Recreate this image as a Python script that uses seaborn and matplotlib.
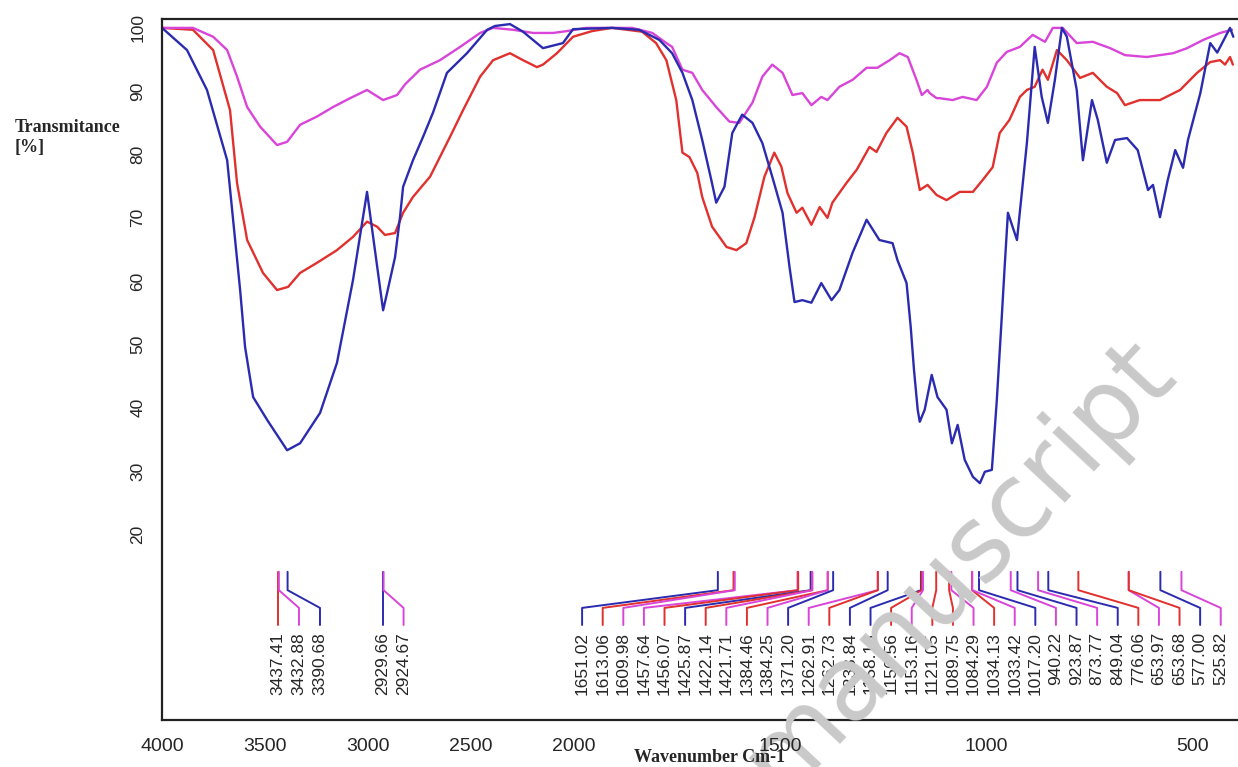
import numpy as np
import pandas as pd
import seaborn as sns
import matplotlib
matplotlib.use('Agg')
import matplotlib.pyplot as plt
from matplotlib import font_manager

# --- spectra (wavenumber cm-1, transmittance %) ---
blue_wn = [4000, 3879, 3782, 3684, 3621, 3597, 3558, 3490, 3393, 3330, 3233, 3151, 3073, 3005,
           2927, 2908, 2869, 2845, 2830, 2782, 2733, 2685, 2617, 2520, 2422, 2384, 2311, 2248,
           2151, 2054, 2005, 1908, 1842, 1793, 1762, 1737, 1713, 1689, 1667, 1655, 1635, 1616,
           1592, 1567, 1543, 1519, 1494, 1477, 1465, 1446, 1424, 1400, 1375, 1356, 1324, 1290,
           1259, 1227, 1215, 1193, 1183, 1175, 1166, 1161, 1149, 1132, 1118, 1096, 1083, 1069,
           1052, 1032, 1015, 1003, 986, 974, 962, 955, 947, 925, 901, 882, 865, 850, 833, 816,
           804, 780, 765, 743, 729, 707, 687, 658, 632, 607, 595, 578, 559, 541, 522, 510, 480,
           456, 439, 408, 400]
blue_t = [100, 96.5, 90.2, 79.1, 58.6, 49.6, 41.7, 38.1, 33.3, 34.4, 39.2, 47.1, 60.2, 74.1,
          55.4, 58.1, 63.8, 70.1, 74.9, 79.1, 82.8, 86.6, 92.9, 96.0, 99.7, 100.3, 100.6, 99.4,
          96.8, 97.6, 99.8, 100, 99.7, 98.1, 96.0, 92.9, 88.6, 82.3, 76.0, 72.4, 74.9, 83.4,
          86.3, 85.0, 81.8, 76.5, 70.8, 62.2, 56.7, 57.0, 56.6, 59.7, 57.0, 58.6, 64.5, 69.7,
          66.5, 66.0, 63.3, 59.7, 52.8, 46.0, 39.7, 37.8, 39.7, 45.2, 41.7, 39.7, 34.4, 37.3,
          31.8, 29.1, 28.1, 29.9, 30.2, 41.2, 54.3, 62.2, 70.8, 66.5, 81.8, 97.0, 89.1, 85.0,
          91.8, 100, 98.6, 90.2, 79.1, 88.6, 85.5, 78.7, 82.3, 82.6, 80.7, 74.4, 75.2, 70.1,
          76.0, 80.7, 77.9, 82.3, 89.7, 97.6, 96.1, 100, 98.6]

red_wn = [4000, 3850, 3752, 3670, 3636, 3587, 3510, 3442, 3388, 3330, 3248, 3151, 3073, 3005,
          2956, 2918, 2869, 2830, 2782, 2699, 2602, 2539, 2456, 2393, 2311, 2248, 2180, 2151,
          2083, 2005, 1956, 1908, 1835, 1801, 1776, 1752, 1737, 1720, 1701, 1689, 1665, 1630,
          1606, 1582, 1562, 1538, 1514, 1497, 1482, 1460, 1446, 1424, 1404, 1385, 1373, 1339,
          1314, 1283, 1266, 1242, 1215, 1193, 1178, 1161, 1142, 1120, 1096, 1064, 1032, 1008,
          984, 967, 943, 918, 901, 882, 863, 850, 828, 804, 772, 741, 707, 682, 663, 627, 578,
          529, 488, 456, 432, 420, 408, 401]
red_t = [100, 99.7, 96.5, 87.0, 75.5, 66.5, 61.3, 58.6, 59.1, 61.3, 62.9, 64.9, 67.0, 69.4,
         68.6, 67.3, 67.6, 70.8, 73.3, 76.5, 82.8, 87.0, 92.3, 94.9, 96.0, 94.9, 93.8, 94.2,
         96.0, 98.6, 99.5, 100, 99.4, 97.6, 94.9, 88.6, 80.3, 79.6, 77.1, 73.3, 68.6, 65.4,
         64.9, 66.0, 70.1, 76.5, 80.3, 78.1, 73.9, 70.8, 71.6, 68.9, 71.7, 70.0, 72.4, 75.5,
         77.6, 81.2, 80.4, 83.4, 85.8, 84.4, 80.3, 74.4, 75.2, 73.6, 72.8, 74.1, 74.1, 76.0,
         78.0, 83.4, 85.5, 89.1, 90.2, 90.7, 93.4, 91.8, 96.5, 94.9, 92.1, 92.9, 90.7, 89.7,
         87.8, 88.6, 88.6, 90.2, 92.9, 94.6, 94.9, 94.2, 95.4, 94.2]

mag_wn = [4000, 3850, 3752, 3684, 3636, 3587, 3524, 3442, 3393, 3330, 3248, 3170, 3087, 3005,
          2927, 2859, 2820, 2748, 2651, 2553, 2456, 2393, 2296, 2199, 2102, 2034, 1971, 1859,
          1810, 1776, 1762, 1737, 1713, 1689, 1655, 1623, 1599, 1567, 1543, 1519, 1494, 1470,
          1446, 1424, 1400, 1385, 1356, 1324, 1290, 1264, 1234, 1210, 1190, 1169, 1156, 1142,
          1137, 1120, 1113, 1081, 1057, 1023, 998, 974, 950, 918, 887, 857, 838, 814, 780, 741,
          699, 663, 610, 546, 512, 473, 432, 403]
mag_t = [100, 100, 98.6, 96.5, 92.3, 87.5, 84.4, 81.5, 82.0, 84.7, 86.0, 87.5, 88.9, 90.2,
         88.6, 89.4, 91.1, 93.4, 94.9, 97.0, 99.2, 100, 99.7, 99.2, 99.2, 99.5, 100, 100,
         99.2, 97.6, 97.0, 93.4, 92.9, 90.2, 87.5, 85.2, 85.0, 88.2, 92.3, 94.2, 92.9, 89.4,
         89.7, 87.8, 89.1, 88.6, 90.7, 91.8, 93.7, 93.7, 94.9, 96.0, 95.4, 91.8, 89.4, 90.2,
         89.7, 88.9, 88.9, 88.6, 89.1, 88.6, 90.7, 94.5, 96.2, 97.0, 98.9, 97.8, 100, 100,
         97.6, 97.8, 96.8, 95.7, 95.4, 96.0, 96.8, 98.1, 99.2, 99.7]

# peak labels (text, series)
peaks_a = [("3437.41", "red"), ("3432.88", "mag"), ("3390.68", "blue")]
peaks_b = [("2929.66", "blue"), ("2924.67", "mag")]
peaks_c = [("1651.02", "blue"), ("1613.06", "red"), ("1609.98", "mag"), ("1457.64", "mag"),
           ("1456.07", "red"), ("1425.87", "blue"), ("1422.14", "red"), ("1421.71", "mag"),
           ("1384.46", "red"), ("1384.25", "mag"), ("1371.20", "blue"), ("1262.91", "mag"),
           ("1262.73", "red"), ("1238.84", "blue"), ("1158.18", "blue"), ("1156.56", "red"),
           ("1153.16", "mag"), ("1121.05", "red"), ("1089.75", "red"), ("1084.29", "mag"),
           ("1034.13", "red"), ("1033.42", "mag"), ("1017.20", "blue"), ("940.22", "mag"),
           ("923.87", "blue"), ("873.77", "mag"), ("849.04", "blue"), ("776.06", "red"),
           ("653.97", "mag"), ("653.68", "red"), ("577.00", "blue"), ("525.82", "mag")]

x_ticks = [4000, 3500, 3000, 2500, 2000, 1500, 1000, 500]
y_ticks = [20, 30, 40, 50, 60, 70, 80, 90, 100]

colors = {"red": "#e0312e", "mag": "#d845d8", "blue": "#2b2bb0"}


def pick_font(names):
    for n in names:
        try:
            font_manager.findfont(n, fallback_to_default=False)
            return n
        except Exception:
            pass
    return "DejaVu Sans"


narrow = pick_font(["Liberation Sans Narrow", "Liberation Sans"])
serif = pick_font(["Liberation Serif", "DejaVu Serif"])

sns.set_style("white")
plt.rcParams['font.family'] = [narrow, 'DejaVu Sans']

df = pd.concat([
    pd.DataFrame({"wn": red_wn, "T": red_t, "s": "red"}),
    pd.DataFrame({"wn": mag_wn, "T": mag_t, "s": "mag"}),
    pd.DataFrame({"wn": blue_wn, "T": blue_t, "s": "blue"}),
])


# wavenumber axis is compressed by 2 above 2000
def fwd(w):
    w = np.asarray(w, dtype=float)
    return np.where(w > 2000, 2000 + (w - 2000) / 2, w)


def inv(t):
    t = np.asarray(t, dtype=float)
    return np.where(t > 2000, 2000 + (t - 2000) * 2, t)


fig = plt.figure(figsize=(12.38, 7.67), dpi=100)
ax = fig.add_axes([0.1309, 0.0613, 0.8683, 0.9139])
ax.set_xscale('function', functions=(fwd, inv))

sns.lineplot(data=df, x="wn", y="T", hue="s", palette=colors, linewidth=1.7,
             legend=False, errorbar=None, ax=ax)

ax.set_xlim(4000, 391)
ax.set_ylim(-9.3, 101.4)


def draw_peaks(peaks, start_t, step=50):
    for i, (lab, s) in enumerate(peaks):
        w = float(lab)
        lx = float(inv(start_t - step * i))
        ax.plot([w, w, lx, lx], [14.1, 11.2, 8.4, 5.7], color=colors[s], lw=1.4)
        ax.text(lx, 4.6, lab, rotation=90, ha='center', va='top', fontsize=12.5)


draw_peaks(peaks_a, float(fwd(3437.41)), step=51)
draw_peaks(peaks_b, float(fwd(2929.66)), step=51)
draw_peaks(peaks_c, 1980.5)

ax.set_xticks(x_ticks)
ax.set_xticklabels([str(v) for v in x_ticks], fontsize=14)
ax.xaxis.set_minor_locator(matplotlib.ticker.NullLocator())
ax.set_yticks(y_ticks)
ax.set_yticklabels([str(v) for v in y_ticks], rotation=90, va='center', fontsize=12.5)
ax.tick_params(axis='both', direction='out', length=10, width=1.2, color='#222')
ax.tick_params(axis='x', pad=3)
ax.tick_params(axis='y', pad=2)
ax.xaxis.set_zorder(6)

for side in ['left', 'top', 'bottom']:
    ax.spines[side].set_color('#222')
    ax.spines[side].set_linewidth(1.6)
ax.spines['right'].set_visible(False)
ax.set_xlabel('')
ax.set_ylabel('')

fig.text(15 / 1238, 1 - 119 / 767, "Transmitance\n[%]", family=serif, weight='bold',
         fontsize=13, ha='left', va='top', linespacing=1.25)

# grey watermark running diagonally across the lower right (over the curves)
ax.text(958 / 1238, 1 - 565 / 767, "manuscript", fontsize=74, weight='normal',
        color='#c9c9c9', rotation=47, ha='center', va='center', zorder=5,
        family='DejaVu Sans', transform=fig.transFigure, clip_on=False)

fig.text(710 / 1238, 1 - 757 / 767, "Wavenumber Cm-1", family=serif, weight='bold',
         fontsize=13, ha='center', va='center', zorder=20)

fig.savefig('out.png', dpi=100)
